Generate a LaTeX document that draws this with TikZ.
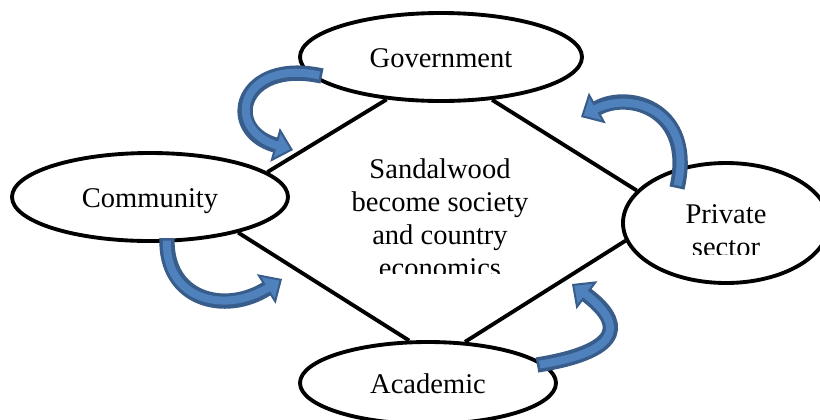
\documentclass[tikz,border=0pt]{standalone}
\usepackage{fontspec}
\setmainfont{Liberation Serif}
\usetikzlibrary{arrows.meta,shapes.geometric}
\definecolor{turnedge}{RGB}{56,93,138}
\definecolor{turnfill}{RGB}{79,129,189}

\begin{document}
\begin{tikzpicture}[x=0.75pt,y=-0.75pt,font=\fontsize{21.4pt}{24.75pt}\selectfont,
  party/.style={draw,ellipse,line width=2.9pt,inner sep=0pt,text height=15pt,text depth=0pt},
  link/.style={line width=2.9pt},
  turn/.style={draw=turnedge,line width=11.5pt,-{Triangle[length=14pt,width=26pt,line width=1.5pt,fill=turnfill]},
    postaction={draw=turnfill,line width=6pt,-,shorten >=11pt,shorten <=2pt}}]
\useasboundingbox (0,0) rectangle (820,419);
\node[party,minimum width=211.5pt,minimum height=66pt] (gov) at (441,57) {Government};
\node[party,minimum width=207pt,minimum height=66pt] (com) at (150,197) {Community};
\node[party,minimum width=154.5pt,minimum height=90pt] (priv) at (726,223) {};
\node[party,minimum width=192pt,minimum height=61.5pt] (acad) at (428,383) {Academic};
\begin{scope}
\clip (300,140) rectangle (580,273);
\node[align=center,inner sep=0pt] (goal) at (440,218) {Sandalwood\\become society\\and country\\economics};
\end{scope}
\begin{scope}
\clip (620,150) rectangle (820,254);
\node[align=center,inner sep=0pt] (privtext) at (726,231) {Private\\sector};
\end{scope}
\path[draw,link] (gov.218) edge (com.12);
\path[draw,link] (gov.320) edge (priv.160);
\path[draw,link] (com.338) edge (acad.114);
\path[draw,link] (acad.48) edge (priv.190);
% curved arrows
\draw[turn] (322,76) .. controls (240,58) and (222,130) .. (293,150);
\draw[turn] (677,188) .. controls (695,110) and (630,90) .. (581,117);
\draw[turn] (167,238) .. controls (165,300) and (225,315) .. (282,279);
\draw[turn] (537,365) .. controls (630,350) and (620,320) .. (572,284);
\end{tikzpicture}
\end{document}
